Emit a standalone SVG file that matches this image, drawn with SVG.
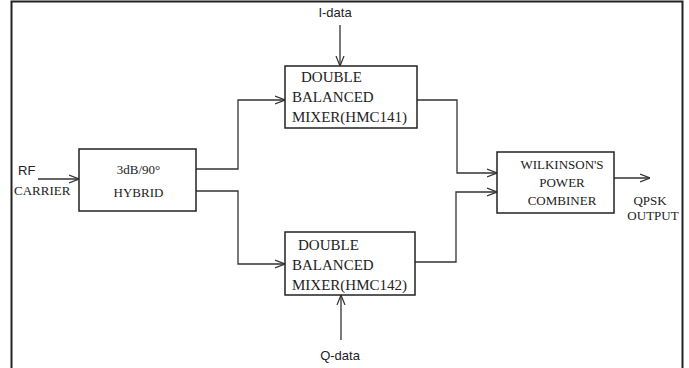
<svg xmlns="http://www.w3.org/2000/svg" width="689" height="368" viewBox="0 0 689 368">
<defs>
<marker id="arr" viewBox="0 0 10 10" refX="10" refY="5" markerWidth="10" markerHeight="10" markerUnits="userSpaceOnUse" orient="auto">
<path d="M0,1 L10,5 L0,9" fill="none" stroke="#333" stroke-width="1.2"/>
</marker>
</defs>
<style>
.box{fill:#fff;stroke:#222;stroke-width:1.5}
.ser{font-family:"Liberation Serif","Times New Roman",serif;font-size:13px;fill:#222}
.mix{font-family:"Liberation Serif","Times New Roman",serif;font-size:15px;fill:#222}
.sans{font-family:"Liberation Sans",Arial,sans-serif;font-size:13px;fill:#222}
.ln{fill:none;stroke:#333;stroke-width:1.3}
</style>
<rect width="689" height="368" fill="#fff"/>
<path d="M11.5,368 V1.5 H682.5 V368" fill="none" stroke="#222" stroke-width="2"/>
<g id="connectors">
<path class="ln" d="M38,179 H79" marker-end="url(#arr)"/>
<path class="ln" d="M196,169 H238 V100 H285" marker-end="url(#arr)"/>
<path class="ln" d="M196,191 H238 V264 H285" marker-end="url(#arr)"/>
<path class="ln" d="M340,25 V66" marker-end="url(#arr)"/>
<path class="ln" d="M341,340 V295" marker-end="url(#arr)"/>
<path class="ln" d="M417,100 H457 V173 H497" marker-end="url(#arr)"/>
<path class="ln" d="M415,262 H456 V192 H497" marker-end="url(#arr)"/>
<path class="ln" d="M614,178 H650" marker-end="url(#arr)"/>
</g>
<g id="rf-carrier">
<text class="sans" x="18" y="175">RF</text>
<text class="ser" x="14" y="195">CARRIER</text>
</g>
<g id="hybrid">
<rect class="box" x="79" y="149" width="117" height="62"/>
<text class="ser" x="138.5" y="174" text-anchor="middle">3dB/90°</text>
<text class="ser" x="138.5" y="197" text-anchor="middle">HYBRID</text>
</g>
<g id="i-data">
<text class="sans" x="335" y="17" text-anchor="middle">I-data</text>
</g>
<g id="mixer1">
<rect class="box" x="285" y="66" width="132" height="62"/>
<text class="mix" x="301" y="82">DOUBLE</text>
<text class="mix" x="292" y="102">BALANCED</text>
<text class="mix" x="292" y="122">MIXER(HMC141)</text>
</g>
<g id="mixer2">
<rect class="box" x="285" y="232" width="130" height="63"/>
<text class="mix" x="298" y="250">DOUBLE</text>
<text class="mix" x="292" y="270">BALANCED</text>
<text class="mix" x="292" y="290">MIXER(HMC142)</text>
</g>
<g id="q-data">
<text class="sans" x="340" y="360" text-anchor="middle">Q-data</text>
</g>
<g id="combiner">
<rect class="box" x="497" y="152" width="117" height="61"/>
<text class="ser" x="562" y="169" text-anchor="middle">WILKINSON'S</text>
<text class="ser" x="562" y="187" text-anchor="middle">POWER</text>
<text class="ser" x="562" y="205" text-anchor="middle">COMBINER</text>
</g>
<g id="qpsk-output">
<text class="ser" x="650" y="205" text-anchor="middle">QPSK</text>
<text class="ser" x="653" y="220" text-anchor="middle">OUTPUT</text>
</g>
</svg>
